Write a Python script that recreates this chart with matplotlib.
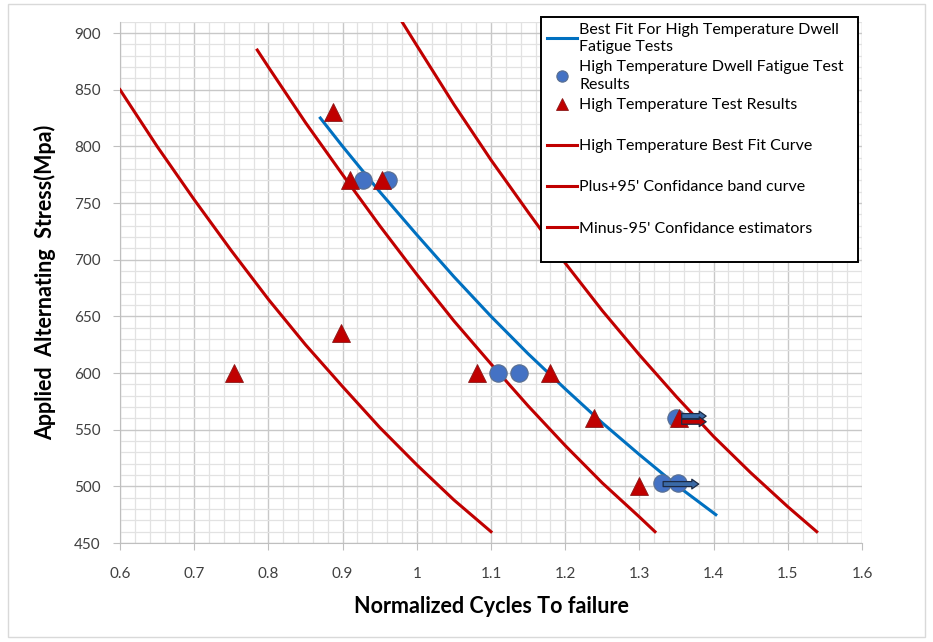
import matplotlib
matplotlib.use("Agg")
import matplotlib.pyplot as plt
from matplotlib.lines import Line2D
from matplotlib.patches import FancyArrowPatch, Rectangle

# curves (normalized cycles, stress in MPa)
minus_x = [0.6, 0.65, 0.7, 0.75, 0.8, 0.85, 0.9, 0.95, 1.0, 1.05, 1.1]
minus_y = [850, 800, 753, 708, 665, 625, 588, 552, 519, 488, 460]
best_x = [0.785, 0.8, 0.85, 0.9, 0.95, 1.0, 1.05, 1.1, 1.15, 1.2, 1.25, 1.3, 1.321]
best_y = [885, 870, 821, 775, 730, 687, 646, 608, 571, 536, 503, 473, 460]
plus_x = [0.98, 1.0, 1.05, 1.1, 1.15, 1.2, 1.25, 1.3, 1.35, 1.4, 1.45, 1.5, 1.539]
plus_y = [910, 889, 837, 788, 742, 697, 655, 616, 579, 544, 512, 482, 460]
dwell_fit_x = [0.87, 0.9, 0.95, 1.0, 1.05, 1.1, 1.15, 1.2, 1.25, 1.3, 1.35, 1.403]
dwell_fit_y = [825, 800, 760, 722, 685, 650, 617, 586, 556, 528, 501, 475]

# test results
ht_x = [0.887, 0.91, 0.953, 0.898, 0.754, 1.081, 1.18, 1.239, 1.30, 1.353]
ht_y = [830, 770, 770, 635, 600, 600, 600, 560, 500, 560]
dwell_x = [0.928, 0.961, 1.109, 1.138, 1.349, 1.33, 1.352]
dwell_y = [770, 770, 600, 600, 560, 503, 503]

# run-outs (arrows)
runout_x0 = [1.357, 1.357, 1.332]
runout_x1 = [1.39, 1.39, 1.38]
runout_y = [562, 557, 502]
runout_fill = ["#3B6AA6", "#C00000", "#3B6AA6"]

xticks = [0.6, 0.7, 0.8, 0.9, 1.0, 1.1, 1.2, 1.3, 1.4, 1.5, 1.6]
xlabels = ["0.6", "0.7", "0.8", "0.9", "1", "1.1", "1.2", "1.3", "1.4", "1.5", "1.6"]
yticks = [450, 500, 550, 600, 650, 700, 750, 800, 850, 900]

RED = "#C00000"
BLUE = "#0070C0"

plt.rcParams['font.family'] = ['Lato', 'DejaVu Sans']

fig = plt.figure(figsize=(9.33, 6.42), dpi=100)
ax = fig.add_axes([0.1286, 0.1542, 0.7953, 0.812])

# outer chart border
fig.patches.append(Rectangle((0.009, 0.008), 0.982, 0.985, transform=fig.transFigure,
                             fill=False, edgecolor="#D9D9D9", lw=1))

l_dwell, = ax.plot(dwell_fit_x, dwell_fit_y, color=BLUE, lw=2.2, zorder=3)
l_best, = ax.plot(best_x, best_y, color=RED, lw=2.2, zorder=3)
l_plus, = ax.plot(plus_x, plus_y, color=RED, lw=2.2, zorder=3)
l_minus, = ax.plot(minus_x, minus_y, color=RED, lw=2.2, zorder=3)

s_dwell, = ax.plot(dwell_x, dwell_y, 'o', ms=12.5, mfc="#4472C4", mec="#5A6F8F",
                   mew=0.8, ls='none', zorder=4)
s_ht, = ax.plot(ht_x, ht_y, '^', ms=12.5, mfc=RED, mec="#8B1A1A", mew=0.6,
                ls='none', zorder=5)

for x0, x1, y, c in zip(runout_x0, runout_x1, runout_y, runout_fill):
    arr = FancyArrowPatch((x0, y), (x1, y),
                          arrowstyle="simple,head_width=7,head_length=5,tail_width=3.6",
                          mutation_scale=1, shrinkA=0, shrinkB=0,
                          facecolor=c, edgecolor="#1C2A44", lw=0.9, zorder=6)
    ax.add_patch(arr)

ax.set_xlim(0.6, 1.6)
ax.set_ylim(450, 910)
ax.set_xticks(xticks)
ax.set_xticklabels(xlabels)
ax.set_yticks(yticks)
ax.set_xticks([0.6 + 0.02 * i for i in range(51)], minor=True)
ax.set_yticks([450 + 10 * i for i in range(47)], minor=True)
ax.grid(True, which='major', color="#C8C8C8", lw=1.0, zorder=0)
ax.grid(True, which='minor', color="#E2E2E2", lw=0.9, zorder=0)
ax.set_axisbelow(True)

for s in ['top', 'right']:
    ax.spines[s].set_visible(False)
for s in ['left', 'bottom']:
    ax.spines[s].set_color("#BFBFBF")
ax.tick_params(which='major', direction='out', length=5, color="#BFBFBF",
               labelsize=11, labelcolor="#404040")
ax.tick_params(axis='x', which='major', pad=12)
ax.tick_params(axis='y', which='major', pad=9)
ax.tick_params(which='minor', length=0)

ax.set_xlabel("Normalized Cycles To failure", fontsize=15.5, fontweight='bold')
ax.set_ylabel("Applied  Alternating  Stress(Mpa)", fontsize=15.5, fontweight='bold')
ax.xaxis.set_label_coords(0.5, -0.102)
ax.yaxis.set_label_coords(-0.086, 0.5)

blank = Line2D([], [], ls='none', marker=None)
handles = [l_dwell, s_dwell, s_ht, blank, l_best, blank, l_plus, blank, l_minus, blank]
labels = ["Best Fit For High Temperature Dwell\nFatigue Tests",
          "High Temperature Dwell Fatigue Test\nResults",
          "High Temperature Test Results", " ",
          "High Temperature Best Fit Curve", " ",
          "Plus+95' Confidance band curve", " ",
          "Minus-95' Confidance estimators", " "]
leg = ax.legend(handles, labels, loc='upper left', mode='expand',
                bbox_to_anchor=(541 / 933, 1 - 17 / 642 - 0.5, 317 / 933, 0.5),
                bbox_transform=fig.transFigure,
                borderaxespad=0, fontsize=11.5, labelspacing=0.4, handlelength=1.9,
                handletextpad=0.15, borderpad=0.35, fancybox=False, markerscale=0.65,
                framealpha=1)
for t in leg.get_texts():
    t.set_linespacing(1.3)
leg.get_frame().set_edgecolor("black")
leg.get_frame().set_linewidth(1.4)
leg.set_zorder(10)

fig.savefig("out.png", dpi=100)
